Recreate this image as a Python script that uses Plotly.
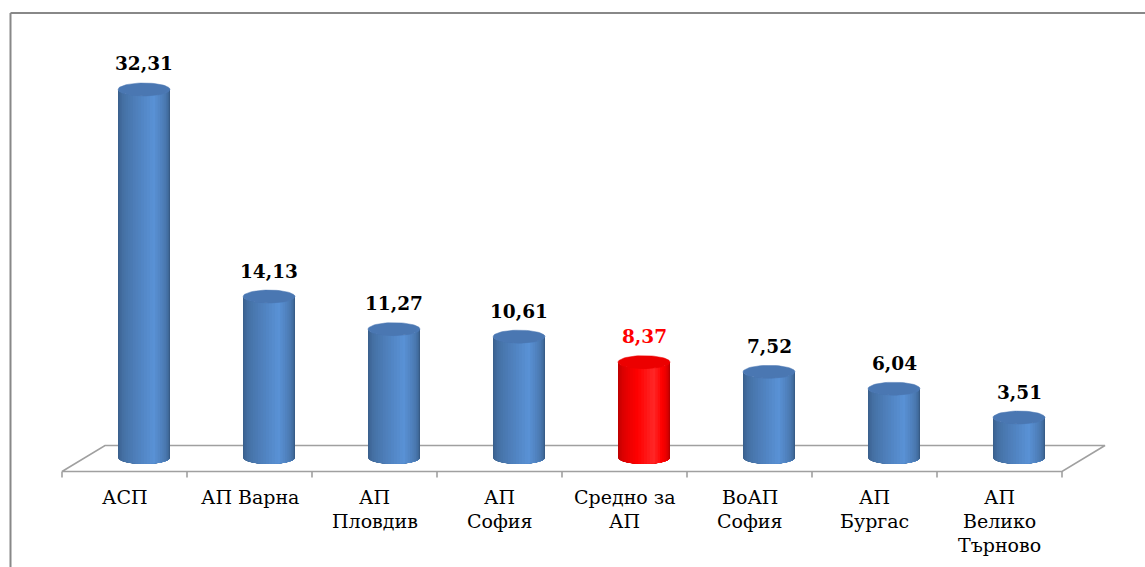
import numpy as np
import plotly.graph_objects as go

# Chart data
categories = ["АСП", "АП Варна", "АП<br>Пловдив", "АП<br>София", "Средно за<br>АП",
              "ВоАП<br>София", "АП<br>Бургас", "АП<br>Велико<br>Търново"]
values = [32.31, 14.13, 11.27, 10.61, 8.37, 7.52, 6.04, 3.51]
value_labels = ["32,31", "14,13", "11,27", "10,61", "8,37", "7,52", "6,04", "3,51"]
highlight = [False, False, False, False, True, False, False, False]

W, H = 1145, 567
PX_X = 125.0    # pixels per category
PX_Y = 11.39    # pixels per value unit

# axis ranges (category index on x, value on y)
X_RANGE = [-144 / PX_X, (W - 144) / PX_X]
Y_RANGE = [-(H - 457.5) / PX_Y, 457.5 / PX_Y]

# cylinder geometry in axis units
RX = 26 / PX_X
RY = 6.5 / PX_Y

# floor parallelogram (front edge lower-left, back edge shifted up-right)
FLOOR_FRONT_Y = -14 / PX_Y
FLOOR_BACK_Y = 12 / PX_Y
FLOOR_FRONT_X = (-82 / PX_X, (-82 + 8 * PX_X) / PX_X)
FLOOR_BACK_X = (-39 / PX_X, (-39 + 8 * PX_X) / PX_X)
FLOOR_COLOR = "#a0a0a0"

SERIF = "DejaVu Serif"
BLUE = (79, 129, 189)
RED = (255, 0, 0)


def shade(base, s):
    # lighting profile across the cylinder, s: 0 = left edge, 1 = right edge
    pts = [(0.0, 0.70), (0.2, 0.86), (0.62, 1.13), (0.85, 0.88), (1.0, 0.62)]
    xs, fs = zip(*pts)
    f = float(np.interp(s, xs, fs))
    if base == RED:
        r = min(255, int(255 * f))
        g = b = int(max(0.0, f - 1.0) * 300)
        return f"rgb({r},{g},{b})"
    c = [min(255, int(round(v * f))) for v in base]
    return f"rgb({c[0]},{c[1]},{c[2]})"


fig = go.Figure()

# floor outline
fx = [FLOOR_FRONT_X[0], FLOOR_BACK_X[0], FLOOR_BACK_X[1], FLOOR_FRONT_X[1], FLOOR_FRONT_X[0]]
fy = [FLOOR_FRONT_Y, FLOOR_BACK_Y, FLOOR_BACK_Y, FLOOR_FRONT_Y, FLOOR_FRONT_Y]
fig.add_trace(go.Scatter(x=fx, y=fy, mode="lines", line=dict(color=FLOOR_COLOR, width=1.6),
                         hoverinfo="skip", showlegend=False))

# tick marks along the front edge between categories
tick_len = 6 / PX_Y
tx, ty = [], []
for k in range(len(categories) + 1):
    x = FLOOR_FRONT_X[0] + k
    tx += [x, x, None]
    ty += [FLOOR_FRONT_Y, FLOOR_FRONT_Y - tick_len, None]
fig.add_trace(go.Scatter(x=tx, y=ty, mode="lines", line=dict(color=FLOOR_COLOR, width=1.6),
                         hoverinfo="skip", showlegend=False))

# cylinders: each shading band spans from its left boundary to the right edge,
# later bands overlay earlier ones so no seams show between them
N_STRIPS = 28
edges = np.linspace(np.pi, 0, N_STRIPS + 1)
for i, (v, hl) in enumerate(zip(values, highlight)):
    base = RED if hl else BLUE
    for j in range(N_STRIPS):
        t = np.linspace(edges[j], 0, 40)
        xs = i + RX * np.cos(t)
        yb = -RY * np.sin(t)
        yt = v - RY * np.sin(t)
        px = np.concatenate([xs, xs[::-1]])
        py = np.concatenate([yb, yt[::-1]])
        col = shade(base, (j + 0.5) / N_STRIPS)
        fig.add_trace(go.Scatter(x=px, y=py, mode="lines", fill="toself", fillcolor=col,
                                 line=dict(color=col, width=0), hoverinfo="skip",
                                 showlegend=False))
    # top cap
    t = np.linspace(0, 2 * np.pi, 60)
    cap = "rgb(236,0,0)" if hl else "rgb(74,119,178)"
    fig.add_trace(go.Scatter(x=i + RX * np.cos(t), y=v + RY * np.sin(t), mode="lines",
                             fill="toself", fillcolor=cap, line=dict(color=cap, width=0.5),
                             hoverinfo="skip", showlegend=False))

annotations = []
# value labels above each cylinder
for i, (v, lab, hl) in enumerate(zip(values, value_labels, highlight)):
    annotations.append(dict(
        x=i, y=v + RY, xref="x", yref="y", text=f"<b>{lab}</b>", showarrow=False,
        yanchor="middle", xanchor="center", yshift=19,
        font=dict(family=SERIF, size=18.5, color="#ff0000" if hl else "#000000")))

# category labels, one annotation per line
cat_center_offset = FLOOR_FRONT_X[0] + 0.5
for i, cat in enumerate(categories):
    for k, line in enumerate(cat.split("<br>")):
        annotations.append(dict(
            x=i + cat_center_offset, y=FLOOR_FRONT_Y, xref="x", yref="y", text=line,
            showarrow=False, xanchor="center", yanchor="middle", yshift=-25.5 - 24 * k,
            font=dict(family=SERIF, size=19, color="#000000")))

# chart frame (left and top edges)
shapes = [dict(type="line", xref="paper", yref="paper", x0=10.5 / W, x1=10.5 / W,
               y0=0, y1=1 - 13 / H, line=dict(color="#888888", width=2)),
          dict(type="line", xref="paper", yref="paper", x0=10.5 / W, x1=1,
               y0=1 - 13 / H, y1=1 - 13 / H, line=dict(color="#888888", width=2))]

fig.update_layout(
    width=W, height=H, autosize=False,
    margin=dict(l=0, r=0, t=0, b=0),
    paper_bgcolor="white", plot_bgcolor="white",
    xaxis=dict(range=X_RANGE, visible=False, fixedrange=True),
    yaxis=dict(range=Y_RANGE, visible=False, fixedrange=True),
    annotations=annotations, shapes=shapes, showlegend=False,
)

fig.write_html("out.html", config={"displayModeBar": False})
